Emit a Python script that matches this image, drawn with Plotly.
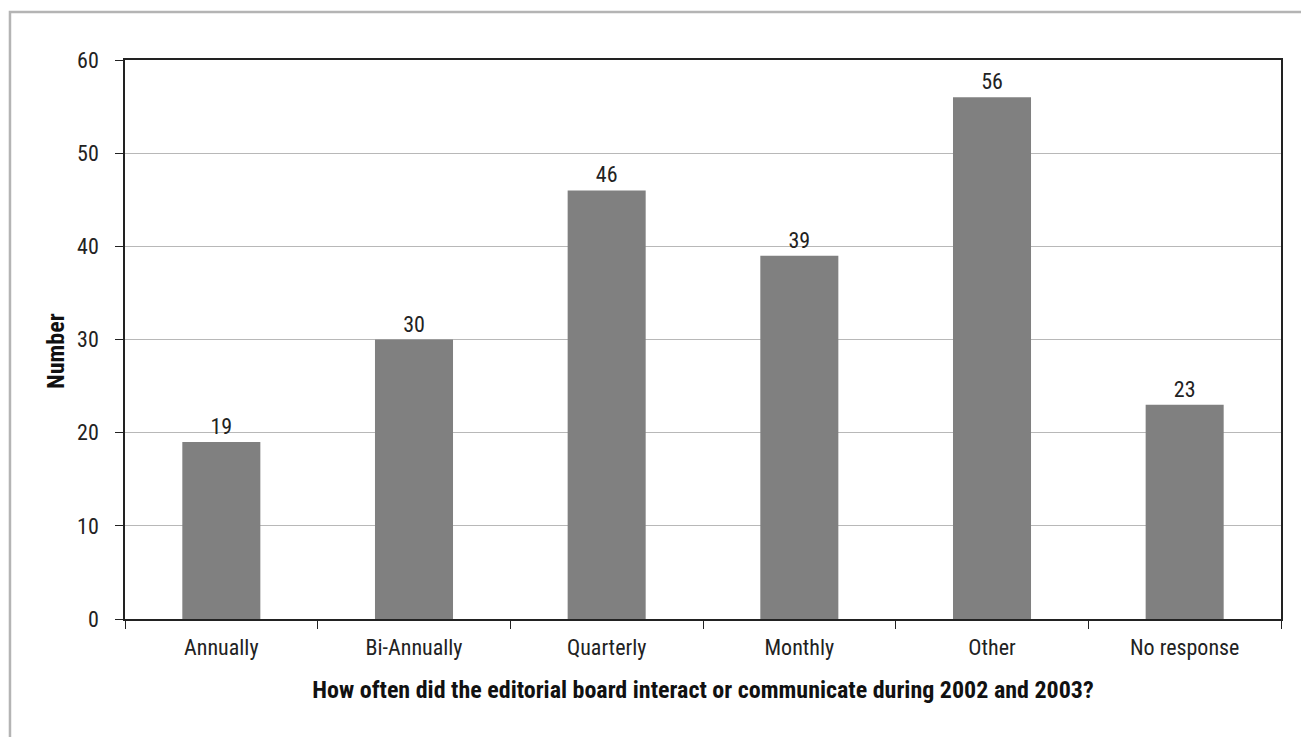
import plotly.graph_objects as go

categories = ["Annually", "Bi-Annually", "Quarterly", "Monthly", "Other", "No response"]
counts = [19, 30, 46, 39, 56, 23]
y_ticks = [0, 10, 20, 30, 40, 50, 60]

FONT = "Liberation Sans Narrow, Arial Narrow, Roboto Condensed, DejaVu Sans Condensed, sans-serif"

fig = go.Figure(
    go.Bar(
        x=categories,
        y=counts,
        marker=dict(color="#808080", line=dict(width=0)),
        width=0.405,
        text=[str(v) for v in counts],
        textposition="outside",
        textfont=dict(family=FONT, size=22, color="#222222"),
        cliponaxis=False,
    )
)

fig.update_layout(
    width=1301,
    height=737,
    margin=dict(l=125, r=20, t=60, b=118),
    paper_bgcolor="white",
    plot_bgcolor="white",
    showlegend=False,
    font=dict(family=FONT, size=22, color="#222222"),
    xaxis=dict(
        type="category",
        tickson="boundaries",
        ticks="outside",
        ticklen=8,
        tickcolor="#222222",
        ticklabelstandoff=8,
        showline=True,
        linecolor="#222222",
        linewidth=1.5,
        mirror=True,
        showgrid=False,
        tickfont=dict(family=FONT, size=22, color="#222222"),
        title=dict(
            text="<b>How often did the editorial board interact or communicate during 2002 and 2003?</b>",
            font=dict(family=FONT, size=24, color="#111111"),
            standoff=22,
        ),
    ),
    yaxis=dict(
        range=[0, 60],
        tickvals=y_ticks,
        ticks="outside",
        ticklen=8,
        tickcolor="#222222",
        ticklabelstandoff=12,
        showline=True,
        linecolor="#222222",
        linewidth=1.5,
        mirror=True,
        showgrid=True,
        gridcolor="#b8b8b8",
        gridwidth=1,
        zeroline=False,
        tickfont=dict(family=FONT, size=22, color="#222222"),
    ),
    annotations=[
        dict(
            text="<b>Number</b>",
            xref="paper",
            yref="paper",
            x=-0.0597,
            y=0.4794,
            xanchor="center",
            yanchor="middle",
            textangle=-90,
            showarrow=False,
            font=dict(family=FONT, size=24, color="#111111"),
        )
    ],
    shapes=[
        dict(
            type="rect",
            xref="paper",
            yref="paper",
            x0=-0.0995,
            x1=1.1,
            y0=-0.4,
            y1=1.0859,
            line=dict(color="#b4b4b4", width=2.5),
            fillcolor="rgba(0,0,0,0)",
            layer="below",
        )
    ],
)

fig.write_html("out.html")
